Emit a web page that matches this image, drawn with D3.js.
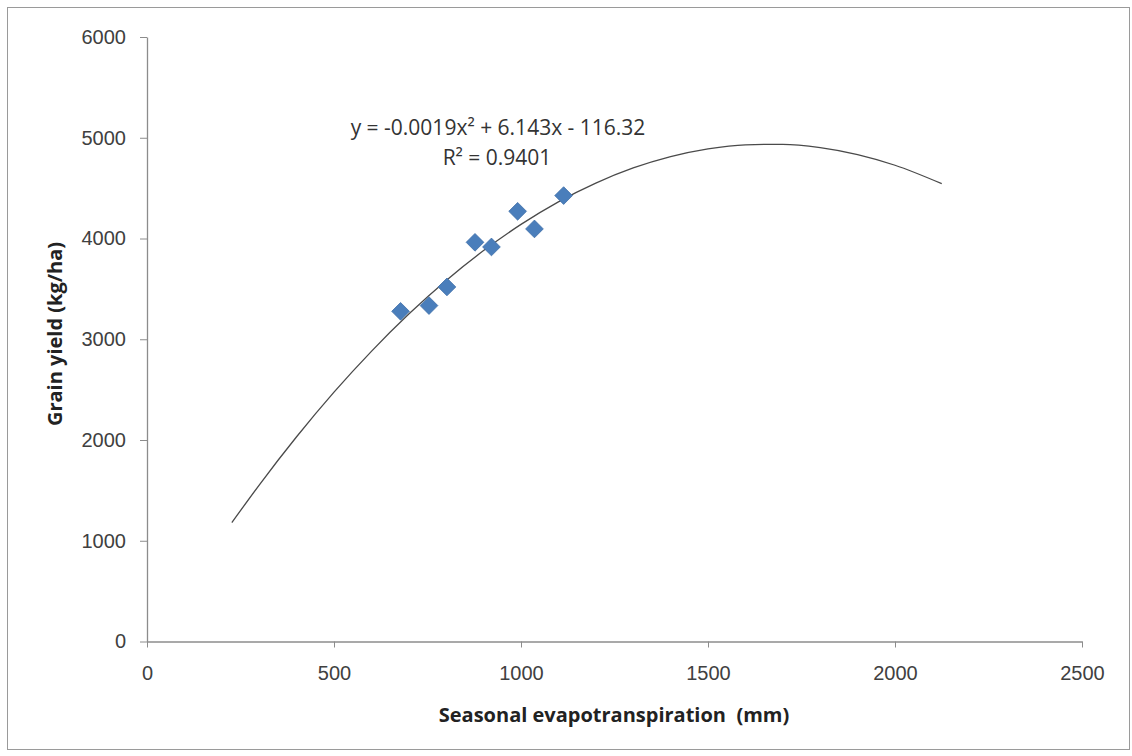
<!DOCTYPE html>
<html>
<head>
<meta charset="utf-8">
<script src="https://cdn.jsdelivr.net/npm/d3@7.9.0/dist/d3.min.js"></script>
<style>
  body { margin: 0; background: #fff; }
  svg { display: block; font-family: "Open Sans", "Liberation Sans", sans-serif; }
  .axis path, .axis line { stroke: #8c8c8c; }
  .axis text { fill: #404040; font-size: 20px; }
</style>
</head>
<body>
<div id="chart"></div>
<script>
// measured points (Seasonal ET mm, grain yield kg/ha)
const etValues = [678, 754, 802, 877, 921, 991, 1036, 1114];
const yieldValues = [3277, 3334, 3519, 3962, 3916, 4270, 4095, 4426];

// polynomial trendline
const trendX = [227, 300, 400, 500, 600, 700, 800, 900, 1000, 1100, 1200, 1300, 1400, 1500, 1600, 1700, 1800, 1900, 2000, 2125];
const trendY = [1181, 1553, 2032, 2475, 2880, 3250, 3584, 3880, 4140, 4364, 4550, 4700, 4813, 4890, 4930, 4935, 4902, 4833, 4727, 4544];

const xTicks = [0, 500, 1000, 1500, 2000, 2500];
const yTicks = [0, 1000, 2000, 3000, 4000, 5000, 6000];

const equationText = 'y = -0.0019x² + 6.143x - 116.32';
const r2Text = 'R² = 0.9401';

const width = 1132;
const height = 756;

const svg = d3.select('#chart')
  .append('svg')
  .attr('width', width)
  .attr('height', height);

// outer chart frame
svg.append('rect')
  .attr('x', 7.5)
  .attr('y', 7.5)
  .attr('width', 1122)
  .attr('height', 742)
  .attr('fill', '#fff')
  .attr('stroke', '#9a9a9a');

const xScale = d3.scaleLinear().domain([0, 2500]).range([147, 1082]);
const yScale = d3.scaleLinear().domain([0, 6000]).range([641.5, 37]);

const xAxis = svg.append('g')
  .attr('class', 'axis')
  .attr('transform', `translate(0, ${yScale(0)})`)
  .call(d3.axisBottom(xScale).tickValues(xTicks).tickFormat(d3.format('d'))
    .tickSize(6).tickPadding(14).tickSizeOuter(0));
xAxis.selectAll('text').attr('dy', '0.9em');

svg.append('g')
  .attr('class', 'axis')
  .attr('transform', `translate(${xScale(0)}, 0)`)
  .call(d3.axisLeft(yScale).tickValues(yTicks).tickFormat(d3.format('d'))
    .tickSize(7).tickPadding(14).tickSizeOuter(0));

svg.selectAll('.axis .domain').attr('stroke-width', 1.3);

// trendline
const trend = trendX.map((x, i) => ({ x, y: trendY[i] }));
svg.append('path')
  .datum(trend)
  .attr('fill', 'none')
  .attr('stroke', '#4a4a4a')
  .attr('stroke-width', 1.3)
  .attr('d', d3.line()
    .x(d => xScale(d.x))
    .y(d => yScale(d.y))
    .curve(d3.curveMonotoneX));

// diamond markers
const points = etValues.map((x, i) => ({ x, y: yieldValues[i] }));
svg.append('g')
  .selectAll('path')
  .data(points)
  .join('path')
  .attr('transform', d => `translate(${xScale(d.x)}, ${yScale(d.y)})`)
  .attr('d', d3.symbol().type(d3.symbolDiamond2).size(200))
  .attr('fill', '#4a7ebb')
  .attr('stroke', '#3f6fa8')
  .attr('stroke-width', 0.8);

// equation label
svg.append('text')
  .attr('x', 498)
  .attr('y', 135)
  .attr('text-anchor', 'middle')
  .attr('fill', '#333')
  .style('font-size', '21px')
  .text(equationText);

svg.append('text')
  .attr('x', 497)
  .attr('y', 165)
  .attr('text-anchor', 'middle')
  .attr('fill', '#333')
  .style('font-size', '21px')
  .text(r2Text);

// axis titles
svg.append('text')
  .attr('x', 614)
  .attr('y', 722)
  .attr('text-anchor', 'middle')
  .attr('fill', '#222')
  .style('font-size', '20px')
  .style('font-weight', 'bold')
  .style('white-space', 'pre')
  .text('Seasonal evapotranspiration  (mm)');

svg.append('text')
  .attr('transform', 'translate(62, 334) rotate(-90)')
  .attr('text-anchor', 'middle')
  .attr('fill', '#222')
  .style('font-size', '20px')
  .style('font-weight', 'bold')
  .text('Grain yield (kg/ha)');
</script>
</body>
</html>
